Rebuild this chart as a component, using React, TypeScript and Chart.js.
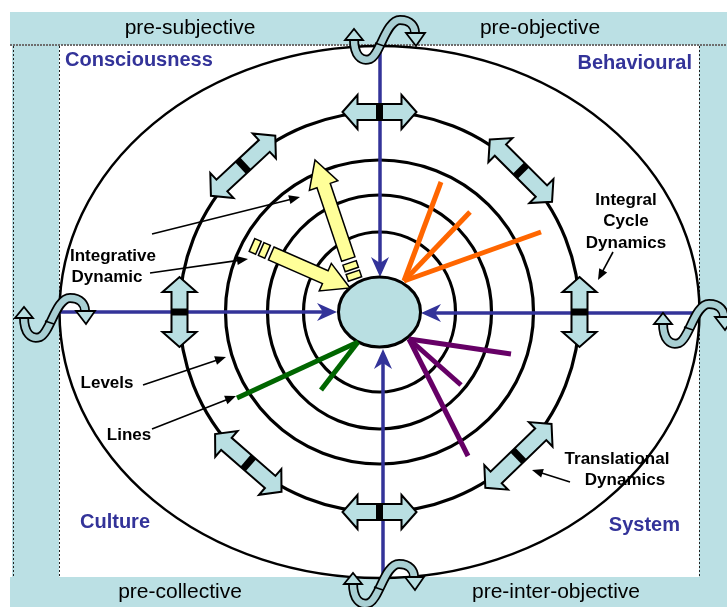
import { useEffect, useRef } from "react";
import { Chart, registerables } from "chart.js";
Chart.register(...registerables);

const W = 727;
const H = 607;

// ---- text content ----
const bandLabels = ["pre-subjective", "pre-objective", "pre-collective", "pre-inter-objective"];
const quadrantLabels = ["Consciousness", "Behavioural", "Culture", "System"];
const noteLabels = [["Integrative", "Dynamic"], ["Levels"], ["Lines"], ["Integral", "Cycle", "Dynamics"], ["Translational", "Dynamics"]];

// ---- geometry values (diagram units) ----
const centre = [379.5, 312];
const coreRadii = [41, 35];
const ringRx = [76, 112, 154, 200];
const ringRy = [80, 117, 152, 200];
const outerRadii = [320, 266];

const cycleAngles = [0, 46, 90, 131, 180, 227, 270, 315];
const cycleLengths = [70, 92, 74, 88, 70, 88, 74, 88];

const orangeOrigin = [404, 281];
const orangeEnds = [[441, 182], [470, 212], [541, 232]];
const greenOrigin = [358, 342];
const greenEnds = [[237, 398], [321, 390]];
const purpleOrigin = [409, 339];
const purpleEnds = [[511, 354], [461, 385], [468, 456]];

const yellowTails = [[355, 279], [252, 245]];
const yellowTips = [[315, 160], [350, 288]];

const axisStarts = [[380, 45], [383, 577], [60, 312], [698, 313]];
const axisTips = [[380, 277], [383, 349], [337, 312], [421, 313]];

const twistCentres = [[385, 38], [384, 582], [55, 316], [694, 322]];

const noteFrom = [[152, 234], [150, 273], [143, 385], [152, 429], [613, 252], [570, 482]];
const noteTo = [[300, 197], [248, 259], [226, 357], [236, 396], [598, 280], [532, 470]];

const BAND = "#bbe0e4";
const NAVY = "#333399";
const FONT = '"Liberation Sans", Arial, sans-serif';

function spokeSets(origin: number[], ends: number[][], color: string) {
  return ends.map((e) => ({
    data: [{ x: origin[0], y: origin[1] }, { x: e[0], y: e[1] }],
    showLine: true,
    borderColor: color,
    borderWidth: 5,
    pointRadius: 0,
    borderCapStyle: "butt" as const,
  }));
}

export default function App() {
  const ref = useRef<HTMLCanvasElement>(null);
  useEffect(() => {
    if (!ref.current) return;
    const diagram = {
      id: "diagram",
      beforeDraw(chart: any) {
        const ctx = chart.ctx;
        const X = (v: number) => chart.scales.x.getPixelForValue(v);
        const Y = (v: number) => chart.scales.y.getPixelForValue(v);
        ctx.save();
        ctx.fillStyle = "#ffffff";
        ctx.fillRect(0, 0, W, H);
        ctx.fillStyle = BAND;
        ctx.fillRect(X(10), Y(12), X(727) - X(10), Y(45) - Y(12));
        ctx.fillRect(X(12), Y(45), X(59) - X(12), Y(577) - Y(45));
        ctx.fillRect(X(699), Y(45), X(727) - X(699), Y(577) - Y(45));
        ctx.fillRect(X(10), Y(577), X(727) - X(10), Y(607) - Y(577));
        ctx.strokeStyle = "#6e6e6e";
        ctx.lineWidth = 2;
        ctx.setLineDash([2, 1]);
        ctx.beginPath();
        ctx.moveTo(X(10), Y(45));
        ctx.lineTo(X(727), Y(45));
        ctx.stroke();
        ctx.strokeStyle = "#222";
        ctx.lineWidth = 1;
        ctx.setLineDash([2, 2]);
        [13, 59, 699].forEach((x) => {
          ctx.beginPath();
          ctx.moveTo(X(x) + 0.5, Y(46));
          ctx.lineTo(X(x) + 0.5, Y(577));
          ctx.stroke();
        });
        ctx.setLineDash([]);
        ctx.restore();
      },
      beforeDatasetsDraw(chart: any) {
        const ctx = chart.ctx;
        const X = (v: number) => chart.scales.x.getPixelForValue(v);
        const Y = (v: number) => chart.scales.y.getPixelForValue(v);
        const cx = X(centre[0]);
        const cy = Y(centre[1]);
        ctx.save();
        // outer ellipse
        ctx.strokeStyle = "#000";
        ctx.lineWidth = 2.5;
        ctx.beginPath();
        ctx.ellipse(cx, cy, X(centre[0] + outerRadii[0]) - cx, Math.abs(Y(centre[1] + outerRadii[1]) - cy), 0, 0, Math.PI * 2);
        ctx.stroke();
        // rings
        ctx.lineWidth = 3.2;
        ringRx.forEach((rx, i) => {
          const ry = ringRy[i];
          ctx.beginPath();
          ctx.ellipse(cx, cy, X(centre[0] + rx) - cx, Math.abs(Y(centre[1] + ry) - cy), 0, 0, Math.PI * 2);
          ctx.stroke();
        });
        // blue axes
        axisStarts.forEach((s, i) => {
          const t = axisTips[i];
          const x0 = X(s[0]), y0 = Y(s[1]), x1 = X(t[0]), y1 = Y(t[1]);
          const L = Math.hypot(x1 - x0, y1 - y0);
          const ux = (x1 - x0) / L, uy = (y1 - y0) / L;
          const hl = 20, hw = 9;
          ctx.strokeStyle = NAVY;
          ctx.lineWidth = 3.5;
          ctx.beginPath();
          ctx.moveTo(x0, y0);
          ctx.lineTo(x1 - ux * hl * 0.6, y1 - uy * hl * 0.6);
          ctx.stroke();
          ctx.fillStyle = NAVY;
          ctx.beginPath();
          ctx.moveTo(x1, y1);
          ctx.lineTo(x1 - ux * hl - uy * hw, y1 - uy * hl + ux * hw);
          ctx.lineTo(x1 - ux * hl * 0.7, y1 - uy * hl * 0.7);
          ctx.lineTo(x1 - ux * hl + uy * hw, y1 - uy * hl - ux * hw);
          ctx.closePath();
          ctx.fill();
        });
        // core
        ctx.fillStyle = "#b9dfe2";
        ctx.strokeStyle = "#000";
        ctx.lineWidth = 3;
        ctx.beginPath();
        ctx.ellipse(cx, cy, X(centre[0] + coreRadii[0]) - cx, Math.abs(Y(centre[1] + coreRadii[1]) - cy), 0, 0, Math.PI * 2);
        ctx.fill();
        ctx.stroke();
        ctx.restore();
      },
      afterDatasetsDraw(chart: any) {
        const ctx = chart.ctx;
        const X = (v: number) => chart.scales.x.getPixelForValue(v);
        const Y = (v: number) => chart.scales.y.getPixelForValue(v);
        const cx = X(centre[0]);
        const cy = Y(centre[1]);
        ctx.save();
        const poly = (pts: number[][], ox: number, oy: number, ux: number, uy: number) => {
          ctx.beginPath();
          pts.forEach(([s, t], i) => {
            const x = ox + ux * s - uy * t;
            const y = oy + uy * s + ux * t;
            if (i) ctx.lineTo(x, y);
            else ctx.moveTo(x, y);
          });
          ctx.closePath();
        };
        // yellow arrows
        yellowTails.forEach((tl, i) => {
          const tp = yellowTips[i];
          const x0 = X(tl[0]), y0 = Y(tl[1]), x1 = X(tp[0]), y1 = Y(tp[1]);
          const L = Math.hypot(x1 - x0, y1 - y0);
          const ux = (x1 - x0) / L, uy = (y1 - y0) / L;
          const sw = 7, hw = 15, hl = 27;
          ctx.fillStyle = "#ffff99";
          ctx.strokeStyle = "#000";
          ctx.lineWidth = 1.5;
          ctx.lineJoin = "miter";
          const d0 = 21;
          poly([[d0, -sw], [L - hl, -sw], [L - hl, -hw], [L, 0], [L - hl, hw], [L - hl, sw], [d0, sw]], x0, y0, ux, uy);
          ctx.fill();
          ctx.stroke();
          [[0, 7], [10, 17]].forEach(([a, b]) => {
            poly([[a, -sw], [b, -sw], [b, sw], [a, sw]], x0, y0, ux, uy);
            ctx.fill();
            ctx.stroke();
          });
        });
        // cycle double arrows
        const rx2 = X(centre[0] + ringRx[3]) - cx;
        const ry2 = Math.abs(Y(centre[1] + ringRy[3]) - cy);
        cycleAngles.forEach((deg, i) => {
          const a = (deg * Math.PI) / 180;
          const px = cx + rx2 * Math.cos(a);
          const py = cy + ry2 * Math.sin(a);
          let tx = -rx2 * Math.sin(a), ty = ry2 * Math.cos(a);
          const tl = Math.hypot(tx, ty);
          tx /= tl;
          ty /= tl;
          const h = cycleLengths[i] / 2, hl = 15, sw = 8, hw = 17;
          ctx.fillStyle = "#b9dfe2";
          ctx.strokeStyle = "#000";
          ctx.lineWidth = 2;
          poly([[-h, 0], [-h + hl, -hw], [-h + hl, -sw], [h - hl, -sw], [h - hl, -hw], [h, 0], [h - hl, hw], [h - hl, sw], [-h + hl, sw], [-h + hl, hw]], px, py, tx, ty);
          ctx.fill();
          ctx.stroke();
          ctx.fillStyle = "#000";
          poly([[-3.5, -sw], [3.5, -sw], [3.5, sw], [-3.5, sw]], px, py, tx, ty);
          ctx.fill();
        });
        // twist glyphs
        twistCentres.forEach((c) => {
          const ox = X(c[0]), oy = Y(c[1]);
          ctx.save();
          ctx.translate(ox, oy);
          const path = () => {
            ctx.beginPath();
            ctx.moveTo(-31, 1);
            ctx.bezierCurveTo(-31, 17, -24, 24, -15, 21);
            ctx.bezierCurveTo(-5, 17, 1, -18, 15, -18);
            ctx.bezierCurveTo(26, -18, 30, -11, 30, -5);
          };
          ctx.lineCap = "butt";
          path();
          ctx.strokeStyle = "#000";
          ctx.lineWidth = 10;
          ctx.stroke();
          path();
          ctx.strokeStyle = "#a8cfd3";
          ctx.lineWidth = 6.5;
          ctx.stroke();
          ctx.strokeStyle = "#000";
          ctx.lineWidth = 1.5;
          ctx.beginPath();
          ctx.moveTo(-10, 5);
          ctx.lineTo(-1, 8);
          ctx.stroke();
          ctx.fillStyle = "#b9dfe2";
          ctx.lineWidth = 1.8;
          ctx.beginPath();
          ctx.moveTo(-40, 2);
          ctx.lineTo(-31, -9);
          ctx.lineTo(-22, 2);
          ctx.closePath();
          ctx.fill();
          ctx.stroke();
          ctx.beginPath();
          ctx.moveTo(21, -5);
          ctx.lineTo(31, 8);
          ctx.lineTo(40, -5);
          ctx.closePath();
          ctx.fill();
          ctx.stroke();
          ctx.restore();
        });
        // annotation arrows
        noteFrom.forEach((f, i) => {
          const t = noteTo[i];
          const x0 = X(f[0]), y0 = Y(f[1]), x1 = X(t[0]), y1 = Y(t[1]);
          const L = Math.hypot(x1 - x0, y1 - y0);
          const ux = (x1 - x0) / L, uy = (y1 - y0) / L;
          ctx.strokeStyle = "#000";
          ctx.fillStyle = "#000";
          ctx.lineWidth = 1.6;
          ctx.beginPath();
          ctx.moveTo(x0, y0);
          ctx.lineTo(x1 - ux * 6, y1 - uy * 6);
          ctx.stroke();
          ctx.beginPath();
          ctx.moveTo(x1, y1);
          ctx.lineTo(x1 - ux * 11 - uy * 4.5, y1 - uy * 11 + ux * 4.5);
          ctx.lineTo(x1 - ux * 11 + uy * 4.5, y1 - uy * 11 - ux * 4.5);
          ctx.closePath();
          ctx.fill();
        });
        // text
        ctx.textBaseline = "middle";
        ctx.fillStyle = "#000";
        ctx.font = `21px ${FONT}`;
        ctx.textAlign = "center";
        const bandPos = [[190, 28], [540, 28], [180, 592], [556, 592]];
        bandLabels.forEach((s, i) => ctx.fillText(s, X(bandPos[i][0]), Y(bandPos[i][1])));
        ctx.fillStyle = NAVY;
        ctx.font = `bold 20px ${FONT}`;
        const quadPos = [[65, 60, "left"], [692, 63, "right"], [80, 522, "left"], [680, 525, "right"]];
        quadrantLabels.forEach((s, i) => {
          ctx.textAlign = quadPos[i][2] as CanvasTextAlign;
          ctx.fillText(s, X(quadPos[i][0] as number), Y(quadPos[i][1] as number));
        });
        ctx.fillStyle = "#000";
        ctx.font = `bold 17px ${FONT}`;
        const notePos = [[113, 256], [107, 383], [129, 435], [626, 200], [617, 459]];
        noteLabels.forEach((lines, i) => {
          ctx.textAlign = "center";
          lines.forEach((ln, j) => {
            const off = i === 0 && j === 1 ? -6 : i === 4 && j === 1 ? 8 : 0;
            ctx.fillText(ln, X(notePos[i][0] + off), Y(notePos[i][1] + j * 21.5));
          });
        });
        ctx.restore();
      },
    };
    const chart = new Chart(ref.current, {
      type: "scatter",
      data: {
        datasets: [
          ...spokeSets(orangeOrigin, orangeEnds, "#ff6600"),
          ...spokeSets(greenOrigin, greenEnds, "#006600"),
          ...spokeSets(purpleOrigin, purpleEnds, "#660066"),
        ],
      },
      options: {
        animation: false,
        responsive: false,
        events: [],
        layout: { padding: 0 },
        plugins: { legend: { display: false }, tooltip: { enabled: false } },
        scales: {
          x: { type: "linear", min: 0, max: W, display: false },
          y: { type: "linear", min: 0, max: H, reverse: true, display: false },
        },
      },
      plugins: [diagram],
    });
    return () => chart.destroy();
  }, []);
  return (
    <div style={{ position: "fixed", left: 0, top: 0, width: W, height: H }}>
      <canvas ref={ref} width={W} height={H} style={{ display: "block" }} />
    </div>
  );
}
